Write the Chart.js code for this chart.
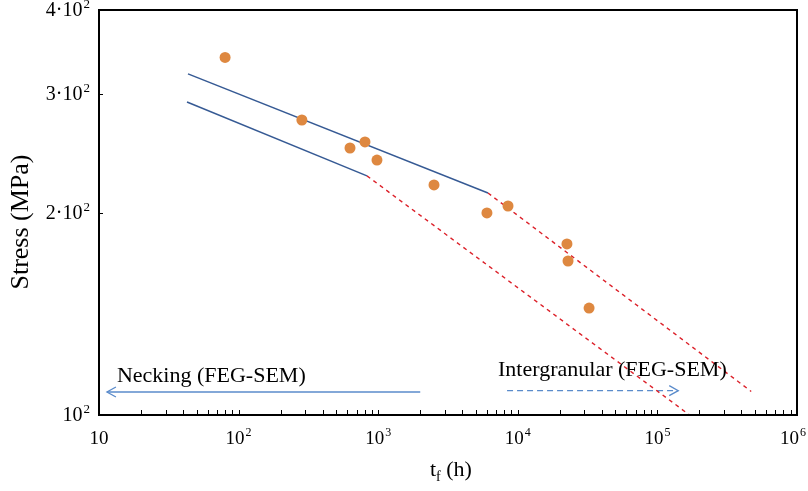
<!DOCTYPE html>
<html>
<head>
<meta charset="utf-8">
<script src="https://cdn.jsdelivr.net/npm/chart.js@4.4.1/dist/chart.umd.min.js"></script>
<style>
  html, body { margin: 0; padding: 0; background: #fff; }
  #wrap { width: 808px; height: 491px; }
</style>
</head>
<body>
<div id="wrap"><canvas id="chart_stressRupture" width="808" height="491"></canvas></div>
<script>
// creep rupture data: time to failure (h) vs stress (MPa)
var ruptureTimes = [80, 284, 628, 804, 980, 2510, 6010, 8510, 22500, 22900, 32400];
var ruptureStress = [340, 274.5, 249.4, 254.6, 239.3, 219.8, 199.7, 204.5, 179.6, 169.4, 144.2];

// fitted bands (solid) and their extrapolations (dashed)
var upperFitTimes = [43.4, 6115];
var upperFitStress = [321.4, 213.8];
var lowerFitTimes = [42.7, 831];
var lowerFitStress = [292, 226.7];
var upperExtrapTimes = [6115, 470000];
var upperExtrapStress = [213.8, 108.4];
var lowerExtrapTimes = [831, 170000];
var lowerExtrapStress = [226.7, 100];

// mechanism arrows
var neckingArrowTimes = [2000, 11.4];
var neckingArrowStress = [108.2, 108.2];
var intergranArrowTimes = [8375, 141000];
var intergranArrowStress = [108.7, 108.7];

// tick labels: base text + superscript exponent
var xTickValues = [10, 100, 1000, 10000, 100000, 1000000];
var xTickBase = ['10', '10', '10', '10', '10', '10'];
var xTickExp = ['', '2', '3', '4', '5', '6'];
var yTickValues = [100, 200, 300, 400];
var yTickBase = ['10', '2·10', '3·10', '4·10'];
var yTickExp = ['2', '2', '2', '2'];

function pairs(xs, ys) {
    return xs.map(function (x, i) { return { x: x, y: ys[i] }; });
}

var SERIF = '"Liberation Serif", "Times New Roman", serif';

function lineSet(label, xs, ys, color, dash, width) {
    return {
        type: 'line',
        label: label,
        data: pairs(xs, ys),
        borderColor: color,
        borderWidth: width,
        borderDash: dash,
        pointRadius: 0,
        fill: false,
        tension: 0,
        order: 2
    };
}

// label with a raised exponent; align is 'center' or 'right'
function supLabel(ctx, base, exp, x, baseline, align, size, maxRight) {
    var ss = Math.round(size * 0.65);
    ctx.font = size + 'px ' + SERIF;
    var wb = ctx.measureText(base).width;
    ctx.font = ss + 'px ' + SERIF;
    var we = exp ? ctx.measureText(exp).width + 1 : 0;
    var total = wb + we;
    var left = align === 'right' ? x - total : x - total / 2;
    if (maxRight && left + total > maxRight) left = maxRight - total;
    ctx.font = size + 'px ' + SERIF;
    ctx.fillText(base, left, baseline);
    if (exp) {
        ctx.font = ss + 'px ' + SERIF;
        ctx.fillText(exp, left + wb + 1, baseline - Math.round(size * 0.42));
    }
}

var chart_stressRupture = new Chart(document.getElementById('chart_stressRupture'), {
    type: 'scatter',
    data: {
        datasets: [
            {
                label: 'Tests',
                data: pairs(ruptureTimes, ruptureStress),
                backgroundColor: '#DE8840',
                borderColor: '#DE8840',
                borderWidth: 0,
                pointRadius: 5.5,
                order: 0
            },
            lineSet('Upper fit', upperFitTimes, upperFitStress, '#365A94', [], 1.5),
            lineSet('Lower fit', lowerFitTimes, lowerFitStress, '#365A94', [], 1.5),
            lineSet('Upper extrapolation', upperExtrapTimes, upperExtrapStress, '#DC2029', [4, 4], 1.4),
            lineSet('Lower extrapolation', lowerExtrapTimes, lowerExtrapStress, '#DC2029', [4, 4], 1.4),
            lineSet('Necking', neckingArrowTimes, neckingArrowStress, '#5A8BCB', [], 1.3),
            lineSet('Intergranular', intergranArrowTimes, intergranArrowStress, '#5A8BCB', [6, 4], 1.3)
        ]
    },
    options: {
        animation: false,
        responsive: false,
        layout: { padding: { top: 10, right: 11, left: 0, bottom: 0 } },
        plugins: {
            legend: { display: false },
            tooltip: { enabled: false }
        },
        scales: {
            x: {
                type: 'logarithmic',
                min: 10,
                max: 1000000,
                grid: { display: false, drawTicks: false },
                border: { display: false },
                ticks: { display: false },
                afterBuildTicks: function (scale) {
                    scale.ticks = xTickValues.map(function (v) { return { value: v }; });
                },
                afterFit: function (scale) {
                    scale.height = 76;
                    scale.paddingLeft = 0;
                    scale.paddingRight = 0;
                }
            },
            y: {
                type: 'logarithmic',
                min: 100,
                max: 400,
                grid: { display: false, drawTicks: false },
                border: { display: false },
                ticks: { display: false },
                afterBuildTicks: function (scale) {
                    scale.ticks = yTickValues.map(function (v) { return { value: v }; });
                },
                afterFit: function (scale) {
                    scale.width = 99;
                    scale.paddingTop = 0;
                    scale.paddingBottom = 0;
                }
            }
        }
    },
    plugins: [{
        id: 'frameAndNotes',
        beforeDraw: function (chart) {
            var ctx = chart.ctx;
            ctx.save();
            ctx.fillStyle = 'white';
            ctx.fillRect(0, 0, chart.width, chart.height);
            ctx.restore();
        },
        afterDraw: function (chart) {
            var ctx = chart.ctx;
            var a = chart.chartArea;
            var xs = chart.scales.x, ys = chart.scales.y;
            ctx.save();

            // inside tick marks along the time axis (log minors)
            ctx.strokeStyle = '#000';
            ctx.lineWidth = 1;
            ctx.beginPath();
            for (var d = 10; d < 1000000; d *= 10) {
                for (var k = 1; k <= 10; k++) {
                    var px = Math.round(xs.getPixelForValue(k * d)) + 0.5;
                    ctx.moveTo(px, a.bottom);
                    ctx.lineTo(px, a.bottom - 5);
                }
            }
            [200, 300].forEach(function (v) {
                var py = Math.round(ys.getPixelForValue(v)) + 0.5;
                ctx.moveTo(a.left, py);
                ctx.lineTo(a.left + 4, py);
            });
            ctx.stroke();

            // plot frame
            ctx.lineWidth = 2;
            ctx.strokeRect(a.left, a.top, a.right - a.left, a.bottom - a.top);

            // tick labels
            ctx.fillStyle = '#000';
            ctx.textBaseline = 'alphabetic';
            ctx.textAlign = 'left';
            xTickValues.forEach(function (v, i) {
                supLabel(ctx, xTickBase[i], xTickExp[i], xs.getPixelForValue(v), a.bottom + 29, 'center', 19, 806);
            });
            yTickValues.forEach(function (v, i) {
                supLabel(ctx, yTickBase[i], yTickExp[i], a.left - 9, ys.getPixelForValue(v) + 6, 'right', 20);
            });

            // arrow heads
            function head(tx, ty, dir) {
                ctx.beginPath();
                ctx.moveTo(tx - dir * 9, ty - 5);
                ctx.lineTo(tx, ty);
                ctx.lineTo(tx - dir * 9, ty + 5);
                ctx.stroke();
            }
            ctx.strokeStyle = '#5A8BCB';
            ctx.lineWidth = 1.3;
            ctx.setLineDash([]);
            var nx = xs.getPixelForValue(neckingArrowTimes[1]);
            var ny = ys.getPixelForValue(neckingArrowStress[1]);
            head(nx, ny, -1);
            var ix = xs.getPixelForValue(intergranArrowTimes[1]);
            var iy = ys.getPixelForValue(intergranArrowStress[1]);
            head(ix, iy, 1);

            // annotations
            ctx.fillStyle = '#000';
            ctx.font = '22px ' + SERIF;
            ctx.fillText('Necking (FEG-SEM)', nx + 10, ny - 10);
            var ix0 = xs.getPixelForValue(intergranArrowTimes[0]);
            ctx.fillText('Intergranular (FEG-SEM)', ix0 - 9, iy - 15);

            // x axis title with subscript
            var tx = 430, tyBase = 476;
            ctx.font = '22px ' + SERIF;
            ctx.fillText('t', tx, tyBase);
            var w = ctx.measureText('t').width;
            ctx.font = '14px ' + SERIF;
            ctx.fillText('f', tx + w, tyBase + 5);
            w += ctx.measureText('f').width;
            ctx.font = '22px ' + SERIF;
            ctx.fillText(' (h)', tx + w, tyBase);

            // y axis title
            ctx.save();
            ctx.translate(21, 222);
            ctx.rotate(-Math.PI / 2);
            ctx.textAlign = 'center';
            ctx.textBaseline = 'middle';
            ctx.font = '26px ' + SERIF;
            ctx.fillText('Stress (MPa)', 0, 0);
            ctx.restore();

            ctx.restore();
        }
    }]
});
</script>
</body>
</html>
